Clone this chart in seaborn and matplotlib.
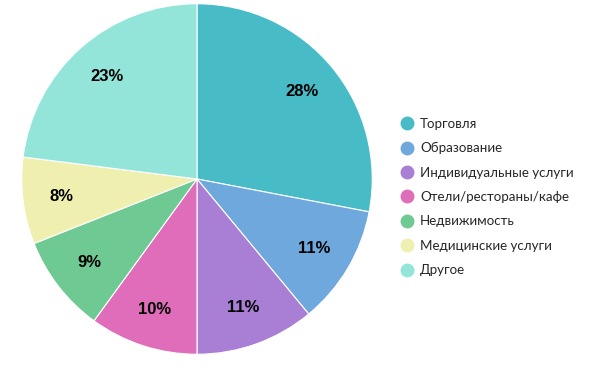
import matplotlib
matplotlib.use("Agg")
import matplotlib.pyplot as plt
import seaborn as sns
from matplotlib.lines import Line2D

categories = ["Торговля", "Образование", "Индивидуальные услуги",
              "Отели/рестораны/кафе", "Недвижимость", "Медицинские услуги", "Другое"]
shares = [28, 11, 11, 10, 9, 8, 23]
colors = ["#47BCC6", "#6FA8DC", "#A87FD4", "#DF6DB9", "#6FC993", "#EFEFB0", "#93E5DA"]

sns.set_theme(style="white")
palette = sns.color_palette(colors)

fig = plt.figure(figsize=(6.07, 3.72), dpi=100)
ax = fig.add_axes([20 / 607, 16 / 372, 354 / 607, 354 / 372])

wedges, texts, autotexts = ax.pie(
    shares, colors=palette, startangle=90, counterclock=False,
    autopct="%d%%", pctdistance=0.78, radius=1,
    wedgeprops=dict(edgecolor="white", linewidth=0.8),
    textprops=dict(fontsize=12, fontweight="bold", color="black",
                   family=["Liberation Sans", "DejaVu Sans"]),
)
ax.set_xlim(-1.01, 1.01)
ax.set_ylim(-1.01, 1.01)
ax.set_aspect("equal")
ax.axis("off")

handles = [Line2D([0], [0], marker="o", linestyle="", markersize=9,
                  markerfacecolor=c, markeredgecolor=c) for c in palette]
fig.legend(handles, categories, loc="center left",
           bbox_to_anchor=(388 / 607, (372 - 197) / 372),
           frameon=False, prop=dict(family=["Lato", "DejaVu Sans"], size=9.6),
           handletextpad=0.5, labelspacing=0.93, handlelength=1.0)

fig.savefig("out.png", dpi=100, facecolor="white")
